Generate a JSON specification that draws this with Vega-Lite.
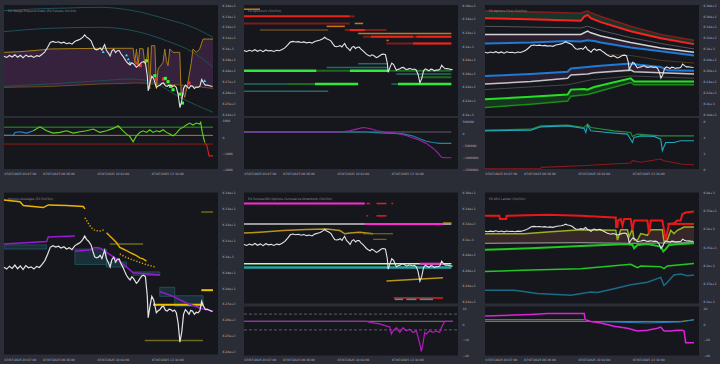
{
"$schema": "https://vega.github.io/schema/vega-lite/v6.json",
"background": "#2a2c36",
"padding": {"left": 1, "top": 4, "right": 0, "bottom": 0},
"config": {
  "view": {"fill": "#16171d", "stroke": null},
  "axis": {"labelFont": "DejaVu Sans", "labelFontSize": 3, "labelColor": "#b6b8c2", "ticks": false, "domain": false, "grid": false, "offset": 0},
  "axisY": {"minExtent": 22, "maxExtent": 22},
  "axisX": {"minExtent": 8, "maxExtent": 8},
  "title": {"font": "DejaVu Sans", "fontSize": 3, "color": "#8e909a", "fontWeight": "normal", "anchor": "start", "frame": "group", "offset": -9, "dx": 4},
  "line": {"clip": true},
  "rule": {"strokeCap": "butt", "clip": true},
  "area": {"clip": true}
},
"datasets": {
"price": [{"i":0,"v":6293},{"i":3,"v":6291.8},{"i":6,"v":6293.6},{"i":9,"v":6292.2},{"i":12,"v":6294.3},{"i":15,"v":6292},{"i":18,"v":6293.8},{"i":21,"v":6291.5},{"i":24,"v":6294},{"i":27,"v":6292.6},{"i":30,"v":6293.2},{"i":33,"v":6291.8},{"i":36,"v":6293.5},{"i":39,"v":6292.8},{"i":42,"v":6294.7},{"i":45,"v":6297},{"i":48,"v":6301},{"i":51,"v":6305.5},{"i":54,"v":6306.5},{"i":57,"v":6305.6},{"i":60,"v":6306.2},{"i":63,"v":6305},{"i":66,"v":6305.8},{"i":69,"v":6304.4},{"i":72,"v":6305.2},{"i":75,"v":6304},{"i":78,"v":6306.4},{"i":81,"v":6307.5},{"i":84,"v":6308.5},{"i":87,"v":6310.5},{"i":89,"v":6312.6},{"i":91,"v":6310.5},{"i":93,"v":6309.5},{"i":96,"v":6307},{"i":98,"v":6303},{"i":100,"v":6299.5},{"i":102,"v":6298.8},{"i":104,"v":6299.3},{"i":106,"v":6300.5},{"i":108,"v":6298.4},{"i":110,"v":6302},{"i":111,"v":6303.6},{"i":113,"v":6298.2},{"i":115,"v":6296},{"i":117,"v":6293.1},{"i":119,"v":6297.8},{"i":121,"v":6299.3},{"i":123,"v":6296.2},{"i":125,"v":6298},{"i":127,"v":6298.2},{"i":129,"v":6295.2},{"i":131,"v":6293.1},{"i":133,"v":6290.5},{"i":135,"v":6287.9},{"i":137,"v":6286.2},{"i":139,"v":6284.9},{"i":141,"v":6286.9},{"i":143,"v":6285.8},{"i":146,"v":6282.8},{"i":148,"v":6284.1},{"i":150,"v":6285.9},{"i":152,"v":6287.5},{"i":154,"v":6287.9},{"i":156,"v":6286.9},{"i":158,"v":6275},{"i":159,"v":6261.2},{"i":161,"v":6268.4},{"i":163,"v":6274.6},{"i":165,"v":6272.5},{"i":167,"v":6267},{"i":168,"v":6264.3},{"i":170,"v":6265.5},{"i":172,"v":6266.3},{"i":174,"v":6268},{"i":176,"v":6268.4},{"i":178,"v":6265.8},{"i":180,"v":6265.3},{"i":182,"v":6266.5},{"i":184,"v":6266.3},{"i":186,"v":6265.3},{"i":188,"v":6266},{"i":190,"v":6264.3},{"i":192,"v":6258},{"i":194,"v":6245.8},{"i":196,"v":6251.9},{"i":198,"v":6263.3},{"i":200,"v":6266.3},{"i":202,"v":6265},{"i":204,"v":6263.3},{"i":206,"v":6265.8},{"i":208,"v":6265.3},{"i":210,"v":6263.3},{"i":212,"v":6264.6},{"i":214,"v":6264.3},{"i":216,"v":6265.5},{"i":218,"v":6271.5},{"i":220,"v":6268.5},{"i":222,"v":6266.3},{"i":224,"v":6266.5},{"i":226,"v":6266},{"i":228,"v":6265.5},{"i":230,"v":6265.1}],
"p1l": [{"s":"c1","i":0,"v":6334.8},{"s":"c1","i":32.3,"v":6336.3},{"s":"c1","i":69,"v":6337.2},{"s":"c1","i":105.7,"v":6337.9},{"s":"c1","i":142.4,"v":6334.8},{"s":"c1","i":179.1,"v":6327.1},{"s":"c1","i":208.4,"v":6319.5},{"s":"c1","i":230.5,"v":6310.3},
{"s":"c2","i":0,"v":6315.5},{"s":"c2","i":50.6,"v":6318.6},{"s":"c2","i":105.7,"v":6319.5},{"s":"c2","i":142.4,"v":6316.4},{"s":"c2","i":179.1,"v":6307.2},{"s":"c2","i":208.4,"v":6296.5},{"s":"c2","i":230.5,"v":6282.7},
{"s":"c3","i":0,"v":6265.3},{"s":"c3","i":50.6,"v":6267.4},{"s":"c3","i":105.7,"v":6270.4},{"s":"c3","i":142.4,"v":6272},{"s":"c3","i":164.4,"v":6269},{"s":"c3","i":193.8,"v":6255.2},{"s":"c3","i":230.5,"v":6241.4}],
"p1b": [{"i":0,"hi":6296.5,"lo":6264.3},{"i":17.6,"hi":6297.1,"lo":6264.6},{"i":43.3,"hi":6298.9,"lo":6265},{"i":50.6,"hi":6299.6,"lo":6265.2},{"i":105.7,"hi":6300.2,"lo":6267.4},{"i":135.1,"hi":6300.2,"lo":6268},{"i":142.4,"hi":6300.2,"lo":6268.3},{"i":144.2,"hi":6287.3,"lo":6268.3},{"i":146.1,"hi":6299.6,"lo":6268.3},{"i":147.9,"hi":6284.2,"lo":6268.3},{"i":149.7,"hi":6300.2,"lo":6268.3},{"i":153.4,"hi":6299.6,"lo":6268.2},{"i":155.2,"hi":6285.8,"lo":6268.1},{"i":157.1,"hi":6287.3,"lo":6268},{"i":158.9,"hi":6301.1,"lo":6268},{"i":160.7,"hi":6262.8,"lo":6267.4},{"i":162.6,"hi":6302.6,"lo":6267.4},{"i":166.3,"hi":6302.6,"lo":6267.4},{"i":168.1,"hi":6262.8,"lo":6267.4},{"i":169.9,"hi":6281.2,"lo":6267.4},{"i":175.4,"hi":6287.3,"lo":6267.4},{"i":177.3,"hi":6299.6,"lo":6267.4},{"i":179.1,"hi":6288.8,"lo":6267.4},{"i":180.9,"hi":6284.2,"lo":6267.3},{"i":182.8,"hi":6299.6,"lo":6267.2},{"i":186.4,"hi":6296.5,"lo":6267},{"i":190.1,"hi":6296.5,"lo":6266.8},{"i":193.8,"hi":6296.5,"lo":6266.5},{"i":195.6,"hi":6253.6,"lo":6266.4},{"i":197.4,"hi":6259.7,"lo":6266.3},{"i":199.3,"hi":6255.1,"lo":6266.1},{"i":202.9,"hi":6268.9,"lo":6265.9},{"i":206.6,"hi":6287.3,"lo":6265.6},{"i":208.4,"hi":6299.6,"lo":6265.5},{"i":212.1,"hi":6296.5,"lo":6265.2},{"i":215.8,"hi":6299.6,"lo":6264.8},{"i":219.5,"hi":6308.7,"lo":6264.3},{"i":230.5,"hi":6308.7,"lo":6263.4}],
"p1m": [{"k":"c","i":109.4,"v":6297.1},{"k":"c","i":135.1,"v":6294},{"k":"c","i":137,"v":6290.4},{"k":"c","i":138.7,"v":6287.3},{"k":"c","i":221.3,"v":6270.5},{"k":"r","i":146.1,"v":6286.7},{"k":"r","i":150.4,"v":6284.2},{"k":"r","i":168.1,"v":6272},{"k":"r","i":176,"v":6272},{"k":"r","i":184.6,"v":6265.2},{"k":"r","i":204,"v":6268.3},{"k":"g","i":157.1,"v":6288.8},{"k":"g","i":166.3,"v":6275},{"k":"g","i":178,"v":6272.6},{"k":"g","i":180.9,"v":6269.6},{"k":"g","i":183.5,"v":6265.2},{"k":"g","i":186.4,"v":6262.1},{"k":"g","i":193.8,"v":6258.1},{"k":"g","i":196.8,"v":6249.9}],
"p1s": [{"s":"b","i":0,"v":87},{"s":"b","i":10.3,"v":106},{"s":"b","i":12.1,"v":275},{"s":"b","i":17.6,"v":312},{"s":"b","i":25,"v":231},{"s":"b","i":32.3,"v":375},
{"s":"g","i":32.3,"v":375},{"s":"g","i":39.6,"v":625},{"s":"g","i":47,"v":375},{"s":"g","i":54.3,"v":231},{"s":"g","i":61.7,"v":275},{"s":"g","i":69,"v":375},{"s":"g","i":76.3,"v":231},{"s":"g","i":83.7,"v":312},{"s":"g","i":91.1,"v":375},{"s":"g","i":98.4,"v":481},{"s":"g","i":105.7,"v":275},{"s":"g","i":113.1,"v":375},{"s":"g","i":120.4,"v":525},{"s":"g","i":125.9,"v":687},{"s":"g","i":131.4,"v":375},{"s":"g","i":135.1,"v":169},{"s":"g","i":138.7,"v":25},{"s":"g","i":142.4,"v":-312},{"s":"g","i":146.1,"v":62},{"s":"g","i":149.7,"v":275},{"s":"g","i":153.4,"v":375},{"s":"g","i":157.1,"v":275},{"s":"g","i":160.7,"v":437},{"s":"g","i":164.4,"v":275},{"s":"g","i":168.1,"v":375},{"s":"g","i":171.8,"v":312},{"s":"g","i":175.4,"v":437},{"s":"g","i":179.1,"v":275},{"s":"g","i":182.8,"v":169},{"s":"g","i":186.4,"v":62},{"s":"g","i":190.1,"v":231},{"s":"g","i":193.8,"v":481},{"s":"g","i":197.4,"v":587},{"s":"g","i":201.1,"v":731},{"s":"g","i":204.8,"v":856},{"s":"g","i":208.4,"v":731},{"s":"g","i":212.1,"v":856},{"s":"g","i":215.8,"v":794},{"s":"g","i":216.9,"v":900},{"s":"g","i":218.7,"v":275},{"s":"g","i":221.3,"v":-350},
{"s":"r","i":221.3,"v":-350},{"s":"r","i":223.9,"v":-562},{"s":"r","i":226.1,"v":-1187},{"s":"r","i":230.5,"v":-1187}],
"p1h": [{"s":"g","a":0,"b":230.5,"v":600},{"s":"o","a":0,"b":230.5,"v":90},{"s":"r","a":0,"b":230.5,"v":-450}],
"p2s": [{"s":"o","a":0,"b":17.6,"v":6353.8},{"s":"r","a":0,"b":116.7,"v":6343.3},{"s":"dr","a":116.7,"b":122.1,"v":6343.3},{"s":"dr","a":0,"b":116.7,"v":6332.9},{"s":"o","a":122.1,"b":131.4,"v":6332.9},{"s":"o","a":91.1,"b":111.2,"v":6328.6},{"s":"br","a":17.6,"b":92.9,"v":6323.3},{"s":"dr","a":111.2,"b":157.1,"v":6323.3},{"s":"r","a":116.7,"b":133.2,"v":6323.3},{"s":"o","a":125.9,"b":228.7,"v":6318},{"s":"dr","a":131.4,"b":228.7,"v":6313.3},{"s":"r","a":140,"b":186.4,"v":6313.3},{"s":"r","a":190.1,"b":228.7,"v":6313.3},{"s":"o","a":157.1,"b":159.6,"v":6308},{"s":"dr","a":157.1,"b":228.7,"v":6303.3},{"s":"r","a":186.4,"b":228.7,"v":6303.3},{"s":"t","a":125.9,"b":158.9,"v":6273.8},{"s":"t","a":91.1,"b":158.9,"v":6268.1},{"s":"g","a":0,"b":80,"v":6263.3},{"s":"dg","a":80,"b":116.7,"v":6263.3},{"s":"g","a":116.7,"b":158.9,"v":6263.3},{"s":"dg","a":158.9,"b":228.7,"v":6263.3},{"s":"t","a":168.1,"b":228.7,"v":6258.8},{"s":"dg","a":193.8,"b":228.7,"v":6253.9},{"s":"t","a":0,"b":47,"v":6243.9},{"s":"dg","a":47,"b":78.2,"v":6243.9},{"s":"g","a":78.2,"b":125.9,"v":6243.9},{"s":"t","a":162.6,"b":169.9,"v":6243.9},{"s":"g","a":169.9,"b":228.7,"v":6243.9},{"s":"t","a":0,"b":92.9,"v":6233.3}],
"p2l": [{"s":"k","i":0,"v":40000},{"s":"k","i":228.7,"v":40000},
{"s":"t","i":0,"v":40000},{"s":"t","i":135.1,"v":40000},{"s":"t","i":149.7,"v":0},{"s":"t","i":164.4,"v":-20000},{"s":"t","i":175.4,"v":-39700},{"s":"t","i":186.4,"v":-131000},{"s":"t","i":193.8,"v":-238100},{"s":"t","i":201.1,"v":-345200},{"s":"t","i":208.4,"v":-396800},{"s":"t","i":215.8,"v":-436500},{"s":"t","i":228.7,"v":-436500},
{"s":"p","i":0,"v":40000},{"s":"p","i":105.7,"v":40000},{"s":"p","i":116.7,"v":91300},{"s":"p","i":124,"v":158700},{"s":"p","i":131.4,"v":226200},{"s":"p","i":138.7,"v":186500},{"s":"p","i":146.1,"v":91300},{"s":"p","i":157.1,"v":27800},{"s":"p","i":168.1,"v":-11900},{"s":"p","i":179.1,"v":-107100},{"s":"p","i":186.4,"v":-210300},{"s":"p","i":193.8,"v":-305600},{"s":"p","i":201.1,"v":-436500},{"s":"p","i":208.4,"v":-634900},{"s":"p","i":213.9,"v":-833300},{"s":"p","i":217.6,"v":-1004000},{"s":"p","i":221.3,"v":-1031700},{"s":"p","i":228.7,"v":-1031700}],
"p3b": [{"s":"rg","i":0,"hi":6369,"lo":6355.7},{"s":"rg","i":69,"hi":6366.5,"lo":6352.8},{"s":"rg","i":105.7,"hi":6364.7,"lo":6351},{"s":"rg","i":109.4,"hi":6367.7,"lo":6358.8},{"s":"rg","i":113.1,"hi":6369,"lo":6361.8},{"s":"rg","i":116.7,"hi":6365.9,"lo":6355.7},{"s":"rg","i":127.7,"hi":6358.8,"lo":6348.6},{"s":"rg","i":160.7,"hi":6340.9,"lo":6331.9},{"s":"rg","i":193.8,"hi":6326,"lo":6318.8},{"s":"rg","i":230.5,"hi":6315.3,"lo":6308.1},
{"s":"wb","i":0,"hi":6326,"lo":6309.2},{"s":"wb","i":105.7,"hi":6326,"lo":6312.8},{"s":"wb","i":113.1,"hi":6331.9,"lo":6315.3},{"s":"wb","i":127.7,"hi":6323,"lo":6311},{"s":"wb","i":160.7,"hi":6311,"lo":6302},{"s":"wb","i":193.8,"hi":6300.9,"lo":6294.9},{"s":"wb","i":230.5,"hi":6293.1,"lo":6287.2},
{"s":"bw","i":0,"hi":6249.6,"lo":6234.7},{"s":"bw","i":50.6,"hi":6253.1,"lo":6239.4},{"s":"bw","i":91.1,"hi":6257.3,"lo":6245.4},{"s":"bw","i":94.7,"hi":6263.3,"lo":6251.4},{"s":"bw","i":113.1,"hi":6266.2,"lo":6253.1},{"s":"bw","i":120.4,"hi":6267.5,"lo":6255.5},{"s":"bw","i":160.7,"hi":6272.3,"lo":6260.3},{"s":"bw","i":164.4,"hi":6271,"lo":6257.3},{"s":"bw","i":230.5,"hi":6259.1,"lo":6253.1},
{"s":"gg","i":0,"hi":6206.6,"lo":6191.7},{"s":"gg","i":50.6,"hi":6211.4,"lo":6197.6},{"s":"gg","i":91.1,"hi":6215.5,"lo":6203.5},{"s":"gg","i":94.7,"hi":6224.5,"lo":6212.5},{"s":"gg","i":113.1,"hi":6224.5,"lo":6215.5},{"s":"gg","i":120.4,"hi":6229.3,"lo":6218.6},{"s":"gg","i":160.7,"hi":6245.4,"lo":6237.6},{"s":"gg","i":164.4,"hi":6239.4,"lo":6233.4},{"s":"gg","i":230.5,"hi":6239.4,"lo":6233.4}],
"p3l": [{"s":"dr","i":0,"v":6369},{"s":"dr","i":69,"v":6366.5},{"s":"dr","i":105.7,"v":6364.7},{"s":"dr","i":109.4,"v":6367.7},{"s":"dr","i":113.1,"v":6369},{"s":"dr","i":116.7,"v":6365.9},{"s":"dr","i":127.7,"v":6358.8},{"s":"dr","i":160.7,"v":6340.9},{"s":"dr","i":193.8,"v":6326},{"s":"dr","i":230.5,"v":6315.3},
{"s":"r","i":0,"v":6355.7},{"s":"r","i":69,"v":6352.8},{"s":"r","i":105.7,"v":6351},{"s":"r","i":109.4,"v":6358.8},{"s":"r","i":113.1,"v":6361.8},{"s":"r","i":116.7,"v":6355.7},{"s":"r","i":127.7,"v":6348.6},{"s":"r","i":160.7,"v":6331.9},{"s":"r","i":193.8,"v":6318.8},{"s":"r","i":230.5,"v":6308.1},
{"s":"gy","i":0,"v":6340.9},{"s":"gy","i":105.7,"v":6337.8},{"s":"gy","i":113.1,"v":6340.9},{"s":"gy","i":127.7,"v":6333.2},{"s":"gy","i":160.7,"v":6320},{"s":"gy","i":193.8,"v":6309.2},{"s":"gy","i":230.5,"v":6299.2},
{"s":"w","i":0,"v":6326},{"s":"w","i":105.7,"v":6326},{"s":"w","i":113.1,"v":6331.9},{"s":"w","i":116.7,"v":6328.9},{"s":"w","i":127.7,"v":6323},{"s":"w","i":160.7,"v":6311},{"s":"w","i":193.8,"v":6300.9},{"s":"w","i":230.5,"v":6293.1},
{"s":"b","i":0,"v":6309.2},{"s":"b","i":50.6,"v":6311},{"s":"b","i":91.1,"v":6314},{"s":"b","i":105.7,"v":6312.8},{"s":"b","i":113.1,"v":6315.3},{"s":"b","i":120.4,"v":6314},{"s":"b","i":127.7,"v":6311},{"s":"b","i":160.7,"v":6302},{"s":"b","i":193.8,"v":6294.9},{"s":"b","i":230.5,"v":6287.2},
{"s":"bn","i":135.1,"v":6289},{"s":"bn","i":160.7,"v":6287.2},{"s":"bn","i":193.8,"v":6278.2},{"s":"bn","i":230.5,"v":6273.4},
{"s":"b2","i":0,"v":6249.6},{"s":"b2","i":50.6,"v":6253.1},{"s":"b2","i":91.1,"v":6257.3},{"s":"b2","i":94.7,"v":6263.3},{"s":"b2","i":113.1,"v":6266.2},{"s":"b2","i":120.4,"v":6267.5},{"s":"b2","i":160.7,"v":6272.3},{"s":"b2","i":164.4,"v":6271},{"s":"b2","i":193.8,"v":6266.2},{"s":"b2","i":201.1,"v":6260.3},{"s":"b2","i":230.5,"v":6259.1},
{"s":"w2","i":0,"v":6234.7},{"s":"w2","i":50.6,"v":6239.4},{"s":"w2","i":91.1,"v":6245.4},{"s":"w2","i":94.7,"v":6251.4},{"s":"w2","i":113.1,"v":6253.1},{"s":"w2","i":120.4,"v":6255.5},{"s":"w2","i":160.7,"v":6260.3},{"s":"w2","i":164.4,"v":6257.3},{"s":"w2","i":230.5,"v":6253.1},
{"s":"gy2","i":0,"v":6224.5},{"s":"gy2","i":91.1,"v":6233.4},{"s":"gy2","i":116.7,"v":6242.4},{"s":"gy2","i":160.7,"v":6249.6},{"s":"gy2","i":230.5,"v":6245.4},
{"s":"g","i":0,"v":6206.6},{"s":"g","i":50.6,"v":6211.4},{"s":"g","i":91.1,"v":6215.5},{"s":"g","i":94.7,"v":6224.5},{"s":"g","i":109.4,"v":6225.7},{"s":"g","i":113.1,"v":6224.5},{"s":"g","i":120.4,"v":6229.3},{"s":"g","i":160.7,"v":6245.4},{"s":"g","i":164.4,"v":6239.4},{"s":"g","i":230.5,"v":6239.4},
{"s":"dg","i":0,"v":6191.7},{"s":"dg","i":50.6,"v":6197.6},{"s":"dg","i":91.1,"v":6203.5},{"s":"dg","i":94.7,"v":6212.5},{"s":"dg","i":113.1,"v":6215.5},{"s":"dg","i":120.4,"v":6218.6},{"s":"dg","i":160.7,"v":6237.6},{"s":"dg","i":164.4,"v":6233.4},{"s":"dg","i":230.5,"v":6233.4}],
"p3s": [{"s":"g","i":0,"v":4.88},{"s":"g","i":50.6,"v":5},{"s":"g","i":61.7,"v":5.41},{"s":"g","i":91.1,"v":5.5},{"s":"g","i":109.4,"v":5.21},{"s":"g","i":113.1,"v":5.63},{"s":"g","i":116.7,"v":5.21},{"s":"g","i":142.4,"v":4.79},{"s":"g","i":160.7,"v":4.59},{"s":"g","i":162.6,"v":4.09},{"s":"g","i":168.1,"v":4.38},{"s":"g","i":193.8,"v":4.16},{"s":"g","i":230.5,"v":4.16},
{"s":"t","i":0,"v":4.79},{"s":"t","i":50.6,"v":4.88},{"s":"t","i":61.7,"v":5.29},{"s":"t","i":91.1,"v":5.41},{"s":"t","i":109.4,"v":5.08},{"s":"t","i":111.2,"v":4.59},{"s":"t","i":113.1,"v":5.5},{"s":"t","i":116.7,"v":4.79},{"s":"t","i":135.1,"v":4.59},{"s":"t","i":157.1,"v":4.38},{"s":"t","i":162.6,"v":3.33},{"s":"t","i":164.4,"v":3.96},{"s":"t","i":171.8,"v":4.16},{"s":"t","i":186.4,"v":4.09},{"s":"t","i":193.8,"v":3.75},{"s":"t","i":195.6,"v":2.29},{"s":"t","i":199.3,"v":3.33},{"s":"t","i":208.4,"v":3.33},{"s":"t","i":215.8,"v":3.54},{"s":"t","i":230.5,"v":3.54},
{"s":"r","i":0,"v":0.03},{"s":"r","i":61.7,"v":0.03},{"s":"r","i":62,"v":0.21},{"s":"r","i":105.7,"v":0.41},{"s":"r","i":160.7,"v":0.75},{"s":"r","i":162.6,"v":1.04},{"s":"r","i":171.8,"v":0.84},{"s":"r","i":193.8,"v":1.25},{"s":"r","i":197.4,"v":1.04},{"s":"r","i":215.8,"v":0.63},{"s":"r","i":230.5,"v":0.54}],
"p4r": [{"a":0,"b":47,"hi":6307,"lo":6304.4},{"a":78.2,"b":113.1,"hi":6304.4,"lo":6294.7},{"a":113.1,"b":135.1,"hi":6296.2,"lo":6293.1},{"a":142.4,"b":171.8,"hi":6290,"lo":6287.9},{"a":171.8,"b":188.3,"hi":6280.3,"lo":6274.6},{"a":188.3,"b":219.5,"hi":6275,"lo":6268.4}],
"p4l": [{"s":"gd","i":0,"v":6335.3},{"s":"gd","i":17.6,"v":6334.2},{"s":"gd","i":21.3,"v":6331.8},{"s":"gd","i":32.3,"v":6331.2},{"s":"gd","i":43.3,"v":6330.5},{"s":"gd","i":48.8,"v":6332.2},{"s":"gd","i":69,"v":6331.8},{"s":"gd","i":87.4,"v":6331.2},{"s":"gd","i":89.2,"v":6329.7},
{"s":"gd2","i":113.1,"v":6314.7},{"s":"gd2","i":116.7,"v":6312.6},{"s":"gd2","i":120.4,"v":6310.6},{"s":"gd2","i":124,"v":6308.5},{"s":"gd2","i":127.7,"v":6305.4},{"s":"gd2","i":131.4,"v":6304.4},{"s":"gd2","i":135.1,"v":6303.4},{"s":"gd2","i":138.7,"v":6302.3},{"s":"gd2","i":142.4,"v":6301.3},{"s":"gd2","i":146.1,"v":6300.3},{"s":"gd2","i":149.7,"v":6298.8},{"s":"gd2","i":153.4,"v":6298.2},{"s":"gd2","i":157.1,"v":6296.8},
{"s":"pu","i":0,"v":6307.5},{"s":"pu","i":47,"v":6309.1},{"s":"pu","i":48.8,"v":6312},{"s":"pu","i":78.2,"v":6312.6},
{"s":"pu2","i":78.2,"v":6303},{"s":"pu2","i":94.7,"v":6303.8},{"s":"pu2","i":100.2,"v":6305.4},{"s":"pu2","i":105.7,"v":6305},{"s":"pu2","i":113.1,"v":6302.3},{"s":"pu2","i":124,"v":6298.2},{"s":"pu2","i":135.1,"v":6293.1},{"s":"pu2","i":142.4,"v":6289.4},{"s":"pu2","i":171.8,"v":6288},
{"s":"pu3","i":171.8,"v":6277.7},{"s":"pu3","i":186.4,"v":6274.6},{"s":"pu3","i":201.1,"v":6270.4},{"s":"pu3","i":215.8,"v":6267.3},{"s":"pu3","i":230.5,"v":6265.3}],
"p4d": [{"s":"d1","i":89.2,"v":6324},{"s":"d1","i":91.6,"v":6321.9},{"s":"d1","i":93.8,"v":6319.8},{"s":"d1","i":96.4,"v":6317.8},{"s":"d1","i":100.2,"v":6316.1},{"s":"d1","i":105.7,"v":6315.7},{"s":"d1","i":111.2,"v":6316.7},{"s":"d2","i":127.7,"v":6301.3},{"s":"d2","i":135.1,"v":6299},{"s":"d2","i":142.4,"v":6297.5},{"s":"d2","i":149.7,"v":6296},{"s":"d2","i":157.1,"v":6294.5},{"s":"d2","i":164.4,"v":6293.5},{"s":"d2","i":168.1,"v":6293.1}],
"p4s": [{"s":"gd","a":164.4,"b":219.5,"v":6269.4},{"s":"gd","a":217.6,"b":230.5,"v":6278.5},{"s":"ol","a":217.6,"b":230.5,"v":6327.7},{"s":"ol","a":155.2,"b":219.5,"v":6246.8},{"s":"ol","a":116.7,"b":153.4,"v":6307.5}],
"p5s": [{"s":"k","a":0,"b":228.7,"v":6319.4},{"s":"t","a":0,"b":228.7,"v":6263.3},{"s":"lg","a":0,"b":228.7,"v":6268.3},{"s":"m","a":0,"b":133.2,"v":6345.8},{"s":"m","a":133.2,"b":219.5,"v":6319.4},{"s":"m","a":193.8,"b":219.5,"v":6268.3},{"s":"r","a":135.1,"b":138.7,"v":6345.8},{"s":"r","a":146.1,"b":157.1,"v":6345.8},{"s":"r","a":162.6,"b":164.4,"v":6345.8},{"s":"r","a":135.1,"b":137,"v":6329.9},{"s":"r","a":146.1,"b":157.1,"v":6329.9},{"s":"r","a":165.2,"b":219.5,"v":6224.2},{"s":"gd","a":219.5,"b":228.7,"v":6320.6},{"s":"t2","a":166.3,"b":175.4,"v":6222.3},{"s":"t2","a":179.1,"b":190.1,"v":6222.3},{"s":"t2","a":193.8,"b":208.4,"v":6222.3},{"s":"gdd","a":131.4,"b":164.4,"v":6306.8},{"s":"gdd","a":142.4,"b":157.1,"v":6299.7}],
"p5l": [{"s":"gd","i":0,"v":6307.7},{"s":"gd","i":17.6,"v":6308.9},{"s":"gd","i":43.3,"v":6311},{"s":"gd","i":69,"v":6312.2},{"s":"gd","i":91.1,"v":6313.1},{"s":"gd","i":105.7,"v":6311},{"s":"gd","i":111.2,"v":6306.8},{"s":"gd","i":116.7,"v":6307.7},{"s":"gd","i":127.7,"v":6308.9},{"s":"gd","i":142.4,"v":6306.8},
{"s":"gd2","i":157.1,"v":6246},{"s":"gd2","i":219.5,"v":6250.2}],
"p5sub": [{"s":"k","i":0,"v":1.56},{"s":"k","i":230.5,"v":1.56},
{"s":"m","i":0,"v":1.56},{"s":"m","i":135.1,"v":1.56},{"s":"m","i":142.4,"v":0.6},{"s":"m","i":149.7,"v":0},{"s":"m","i":157.1,"v":-1.4},{"s":"m","i":160.7,"v":-2},{"s":"m","i":162.6,"v":-6.4},{"s":"m","i":164.4,"v":-4.4},{"s":"m","i":168.1,"v":-2.4},{"s":"m","i":171.8,"v":-5.4},{"s":"m","i":175.4,"v":-2.4},{"s":"m","i":179.1,"v":-4.4},{"s":"m","i":182.8,"v":-3.4},{"s":"m","i":186.4,"v":-5.4},{"s":"m","i":190.1,"v":-4.4},{"s":"m","i":193.8,"v":-12.4},{"s":"m","i":195.6,"v":-17.4},{"s":"m","i":197.4,"v":-12.4},{"s":"m","i":199.3,"v":-5.4},{"s":"m","i":201.1,"v":-6.4},{"s":"m","i":204.8,"v":-4.4},{"s":"m","i":208.4,"v":-5.4},{"s":"m","i":212.1,"v":-4.4},{"s":"m","i":215.8,"v":-5.4},{"s":"m","i":217.6,"v":-2.4},{"s":"m","i":219.5,"v":-0.4},{"s":"m","i":221.3,"v":1.56},{"s":"m","i":230.5,"v":1.56}],
"p5h": [{"a":0,"b":236,"v":6.2},{"a":0,"b":236,"v":-3.8}],
"p6b": [{"i":0,"hi":6286.6,"lo":6259.8},{"i":43.3,"hi":6286.6,"lo":6260.3},{"i":69,"hi":6291.2,"lo":6260.9},{"i":105.7,"hi":6297.4,"lo":6261.7},{"i":142.4,"hi":6295.7,"lo":6260.9},{"i":144.2,"hi":6295.7,"lo":6260.8},{"i":146.1,"hi":6268.9,"lo":6260.8},{"i":149.7,"hi":6297.4,"lo":6260.7},{"i":157.1,"hi":6297.4,"lo":6260},{"i":158.9,"hi":6277.7,"lo":6260},{"i":162.6,"hi":6300,"lo":6259.9},{"i":164.4,"hi":6268.9,"lo":6259.9},{"i":168.1,"hi":6268.9,"lo":6260},{"i":171.8,"hi":6286.6,"lo":6260.1},{"i":179.1,"hi":6282.1,"lo":6260.3},{"i":182.8,"hi":6297.4,"lo":6260.5},{"i":195.6,"hi":6297.4,"lo":6260.8},{"i":197.4,"hi":6264.3,"lo":6260.9},{"i":201.1,"hi":6268.9,"lo":6261},{"i":204.8,"hi":6295.7,"lo":6261.1},{"i":208.4,"hi":6286.6,"lo":6261.2},{"i":212.1,"hi":6295.7,"lo":6261.3},{"i":215.8,"hi":6300,"lo":6261.4},{"i":219.5,"hi":6304.6,"lo":6261.5},{"i":230.5,"hi":6304.6,"lo":6261.7}],
"p6l": [{"s":"k","i":0,"v":6259.8},{"s":"k","i":105.7,"v":6261.7},{"s":"k","i":160.7,"v":6259.8},{"s":"k","i":230.5,"v":6261.7},
{"s":"t","i":0,"v":6130.3},{"s":"t","i":32.3,"v":6130.3},{"s":"t","i":57.9,"v":6121.4},{"s":"t","i":94.7,"v":6116.9},{"s":"t","i":116.7,"v":6125.7},{"s":"t","i":124,"v":6124.1},{"s":"t","i":142.4,"v":6134.9},{"s":"t","i":160.7,"v":6145.6},{"s":"t","i":179.1,"v":6152.5},{"s":"t","i":193.8,"v":6166},{"s":"t","i":197.4,"v":6143.7},{"s":"t","i":201.1,"v":6152.5},{"s":"t","i":208.4,"v":6172.4},{"s":"t","i":215.8,"v":6175},{"s":"t","i":223.1,"v":6170.5},{"s":"t","i":230.5,"v":6172.4},
{"s":"g2","i":0,"v":6182},{"s":"g2","i":50.6,"v":6186.6},{"s":"g2","i":105.7,"v":6190.1},{"s":"g2","i":160.7,"v":6201.9},{"s":"g2","i":164.4,"v":6197.3},{"s":"g2","i":168.1,"v":6192.8},{"s":"g2","i":171.8,"v":6197.3},{"s":"g2","i":193.8,"v":6195.5},{"s":"g2","i":197.4,"v":6190.1},{"s":"g2","i":201.1,"v":6197.3},{"s":"g2","i":230.5,"v":6204.6},
{"s":"g","i":0,"v":6242.1},{"s":"g","i":50.6,"v":6246.4},{"s":"g","i":105.7,"v":6252.8},{"s":"g","i":157.1,"v":6258.2},{"s":"g","i":162.6,"v":6255.5},{"s":"g","i":164.4,"v":6246.4},{"s":"g","i":168.1,"v":6255.5},{"s":"g","i":179.1,"v":6258.2},{"s":"g","i":193.8,"v":6250.9},{"s":"g","i":196.7,"v":6237.5},{"s":"g","i":199.3,"v":6243.7},{"s":"g","i":202.9,"v":6255.5},{"s":"g","i":215.8,"v":6258.2},{"s":"g","i":230.5,"v":6259.8},
{"s":"o","i":0,"v":6286.6},{"s":"o","i":43.3,"v":6286.6},{"s":"o","i":69,"v":6291.2},{"s":"o","i":105.7,"v":6297.4},{"s":"o","i":142.4,"v":6295.7},{"s":"o","i":144.2,"v":6295.7},{"s":"o","i":146.1,"v":6268.9},{"s":"o","i":149.7,"v":6297.4},{"s":"o","i":157.1,"v":6297.4},{"s":"o","i":158.9,"v":6277.7},{"s":"o","i":162.6,"v":6300},{"s":"o","i":164.4,"v":6268.9},{"s":"o","i":168.1,"v":6268.9},{"s":"o","i":171.8,"v":6286.6},{"s":"o","i":179.1,"v":6282.1},{"s":"o","i":182.8,"v":6297.4},{"s":"o","i":195.6,"v":6297.4},{"s":"o","i":197.4,"v":6264.3},{"s":"o","i":201.1,"v":6268.9},{"s":"o","i":204.8,"v":6295.7},{"s":"o","i":208.4,"v":6286.6},{"s":"o","i":212.1,"v":6295.7},{"s":"o","i":215.8,"v":6300},{"s":"o","i":219.5,"v":6304.6},{"s":"o","i":230.5,"v":6304.6},
{"s":"r","i":0,"v":6335.9},{"s":"r","i":15.8,"v":6335.9},{"s":"r","i":16.5,"v":6326.8},{"s":"r","i":23.1,"v":6326.8},{"s":"r","i":23.9,"v":6335.9},{"s":"r","i":69,"v":6338.6},{"s":"r","i":105.7,"v":6335.9},{"s":"r","i":142.4,"v":6331.4},{"s":"r","i":144.2,"v":6331.4},{"s":"r","i":144.6,"v":6304.6},{"s":"r","i":146.1,"v":6304.6},{"s":"r","i":146.5,"v":6322.5},{"s":"r","i":149.7,"v":6326.8},{"s":"r","i":151.6,"v":6309.1},{"s":"r","i":153.4,"v":6326.8},{"s":"r","i":160.7,"v":6326.8},{"s":"r","i":162.6,"v":6295.7},{"s":"r","i":164.4,"v":6322.5},{"s":"r","i":179.1,"v":6322.5},{"s":"r","i":180.9,"v":6286.6},{"s":"r","i":182.8,"v":6322.5},{"s":"r","i":195.6,"v":6322.5},{"s":"r","i":199.3,"v":6268.9},{"s":"r","i":202.9,"v":6313.4},{"s":"r","i":208.4,"v":6315.3},{"s":"r","i":212.1,"v":6322.5},{"s":"r","i":215.8,"v":6322.5},{"s":"r","i":217.6,"v":6340.2},{"s":"r","i":221.3,"v":6344.8},{"s":"r","i":230.5,"v":6347.5},
{"s":"r2","i":201.1,"v":6313.4},{"s":"r2","i":230.5,"v":6313.4}],
"p6sub": [{"s":"o","i":0,"v":3.1},{"s":"o","i":215.8,"v":3.1},{"s":"o","i":230.5,"v":5.2},
{"s":"k","i":0,"v":5.2},{"s":"k","i":109.4,"v":5.2},
{"s":"b","i":113.1,"v":3.1},{"s":"b","i":179.1,"v":1.2},{"s":"b","i":215.8,"v":2.4},{"s":"b","i":230.5,"v":5.2},
{"s":"m","i":0,"v":10},{"s":"m","i":32.3,"v":11.2},{"s":"m","i":50.6,"v":12},{"s":"m","i":69,"v":13.2},{"s":"m","i":109.4,"v":13.2},{"s":"m","i":110.5,"v":5.2},{"s":"m","i":116.7,"v":3.1},{"s":"m","i":127.7,"v":1.2},{"s":"m","i":142.4,"v":-2.9},{"s":"m","i":157.1,"v":-5.6},{"s":"m","i":168.1,"v":-8.9},{"s":"m","i":179.1,"v":-8},{"s":"m","i":190.1,"v":-5.6},{"s":"m","i":193.8,"v":-4},{"s":"m","i":197.4,"v":-8.9},{"s":"m","i":204.8,"v":-8.9},{"s":"m","i":212.1,"v":-8},{"s":"m","i":217.6,"v":-8},{"s":"m","i":219.5,"v":-8.9},{"s":"m","i":221.3,"v":-24},{"s":"m","i":230.5,"v":-24}]
},
"spacing": 14.5,
"resolve": {"scale": {"color": "independent", "strokeWidth": "independent", "shape": "independent"}},
"vconcat": [
{"hconcat": [
 {"vconcat": [
  {"width": 214, "height": 111,
   "title": {"text": "ES Hedge Pressure Index (ES Futures 1m/1m)"},
   "encoding": {
    "x": {"field": "i", "type": "quantitative", "scale": {"domain": [0, 236], "nice": false, "zero": false}, "axis": null, "title": null},
    "y": {"field": "v", "type": "quantitative", "scale": {"domain": [6238, 6340], "nice": false, "zero": false}, "title": null, "axis": {"orient": "right", "values": [6240,6250,6260,6270,6280,6290,6300,6310,6320,6330,6340], "format": ",", "labelPadding": 4}}},
   "layer": [
    {"data": {"name": "p1b"}, "mark": {"type": "area", "color": "#3a2340", "opacity": 0.9}, "encoding": {"y": {"field": "hi", "type": "quantitative", "title": null, "axis": {"orient": "right", "values": [6240,6250,6260,6270,6280,6290,6300,6310,6320,6330,6340], "format": ",", "labelPadding": 4}}, "y2": {"field": "lo"}}},
    {"data": {"name": "p1l"}, "mark": {"type": "line", "color": "#1f4f57", "strokeWidth": 1, "interpolate": "monotone"}, "encoding": {"detail": {"field": "s"}}},
    {"data": {"name": "p1b"}, "mark": {"type": "line", "color": "#6b4a1e", "strokeWidth": 1}, "encoding": {"y": {"field": "lo", "type": "quantitative", "title": null, "axis": {"orient": "right", "values": [6240,6250,6260,6270,6280,6290,6300,6310,6320,6330,6340], "format": ",", "labelPadding": 4}}}},
    {"data": {"name": "p1b"}, "mark": {"type": "line", "color": "#a47e18", "strokeWidth": 1}, "encoding": {"y": {"field": "hi", "type": "quantitative", "title": null, "axis": {"orient": "right", "values": [6240,6250,6260,6270,6280,6290,6300,6310,6320,6330,6340], "format": ",", "labelPadding": 4}}}},
    {"data": {"name": "p1m"}, "mark": {"type": "point", "filled": true, "size": 9, "opacity": 1},
     "encoding": {"color": {"field": "k", "type": "nominal", "scale": {"domain": ["c","r","g"], "range": ["#36e0f0","#ff2a2a","#36ff36"]}, "legend": null},
                  "shape": {"field": "k", "type": "nominal", "scale": {"domain": ["c","r","g"], "range": ["triangle-up","square","square"]}, "legend": null}}},
    {"data": {"name": "price"}, "mark": {"type": "line", "color": "#e4e4e8", "strokeWidth": 1.1}}
   ]},
  {"width": 214, "height": 51,
   "encoding": {
    "x": {"field": "i", "type": "quantitative", "scale": {"domain": [0, 236], "nice": false, "zero": false}, "title": null,
          "axis": {"orient": "bottom", "values": [0, 60, 120, 180], "labelPadding": 3, "labelExpr": "datum.value == 0 ? '07/07/2025 03:07:00' : datum.value == 60 ? '07/07/2025 06:36:00' : datum.value == 120 ? '07/07/2025 10:02:00' : '07/07/2025 13:34:00'"}},
    "y": {"field": "v", "type": "quantitative", "scale": {"domain": [-2000, 1170], "nice": false, "zero": false}, "axis": {"orient": "right", "values": [-2000,-1000,0,1000], "format": "d", "labelPadding": 4}, "title": null}},
   "layer": [
    {"data": {"name": "p1h"}, "mark": {"type": "rule", "strokeWidth": 1},
     "encoding": {"x": {"field": "a", "type": "quantitative", "title": null, "axis": {"orient": "bottom", "values": [0, 60, 120, 180], "labelPadding": 3, "labelExpr": "datum.value == 0 ? '07/07/2025 03:07:00' : datum.value == 60 ? '07/07/2025 06:36:00' : datum.value == 120 ? '07/07/2025 10:02:00' : '07/07/2025 13:34:00'"}}, "x2": {"field": "b"},
                  "color": {"field": "s", "type": "nominal", "scale": {"domain": ["g","o","r"], "range": ["#2b9a2b","#9a861c","#8c1c1c"]}, "legend": null}}},
    {"data": {"name": "p1s"}, "mark": {"type": "line", "strokeWidth": 1.1},
     "encoding": {"color": {"field": "s", "type": "nominal", "scale": {"domain": ["b","g","r"], "range": ["#2a86c8","#62d81a","#e01e1e"]}, "legend": null}}}
   ],
   "resolve": {"scale": {"color": "independent"}}}
 ], "spacing": 2, "resolve": {"scale": {"color": "independent", "strokeWidth": "independent", "shape": "independent"}}},
 {"vconcat": [
  {"width": 214, "height": 111,
   "title": {"text": "ES OptionsIV (5m/5m)"},
   "encoding": {
    "x": {"field": "i", "type": "quantitative", "scale": {"domain": [0, 236], "nice": false, "zero": false}, "axis": null, "title": null},
    "y": {"field": "v", "type": "quantitative", "scale": {"domain": [6197, 6360], "nice": false, "zero": false}, "title": null, "axis": {"orient": "right", "values": [6200,6220,6240,6260,6280,6300,6320,6340,6360], "format": ",", "labelPadding": 4}}},
   "layer": [
    {"data": {"name": "p2s"}, "mark": {"type": "rule"},
     "encoding": {"x": {"field": "a", "type": "quantitative", "axis": null}, "x2": {"field": "b"},
                  "color": {"field": "s", "type": "nominal", "scale": {"domain": ["o","r","dr","br","g","dg","t"], "range": ["#c8761e","#e8241c","#7c1c1c","#6a4a22","#2ee83a","#1e6a1e","#1f6b66"]}, "legend": null},
                  "strokeWidth": {"field": "s", "type": "nominal", "scale": {"type": "ordinal", "domain": ["o","r","dr","br","g","dg","t"], "range": [1.5,2,2,1.5,2.5,2,1.5]}, "legend": null}}},
    {"data": {"name": "price"}, "mark": {"type": "line", "color": "#e4e4e8", "strokeWidth": 1.1}}
   ]},
  {"width": 214, "height": 51,
   "encoding": {
    "x": {"field": "i", "type": "quantitative", "scale": {"domain": [0, 236], "nice": false, "zero": false}, "title": null,
          "axis": {"orient": "bottom", "values": [0, 60, 120, 180], "labelPadding": 3, "labelExpr": "datum.value == 0 ? '07/07/2025 03:07:00' : datum.value == 60 ? '07/07/2025 06:36:00' : datum.value == 120 ? '07/07/2025 10:02:00' : '07/07/2025 13:34:00'"}},
    "y": {"field": "v", "type": "quantitative", "scale": {"domain": [-1500000, 620000], "nice": false, "zero": false}, "axis": {"orient": "right", "values": [-1500000,-1000000,-500000,0,500000], "format": "d", "labelPadding": 4}, "title": null}},
   "layer": [
    {"data": {"name": "p2l"}, "mark": {"type": "line", "strokeWidth": 1.1},
     "encoding": {"color": {"field": "s", "type": "nominal", "scale": {"domain": ["k","t","p"], "range": ["#5e5e66","#1a8aa0","#a020b0"]}, "legend": null}}}
   ]}
 ], "spacing": 2, "resolve": {"scale": {"color": "independent", "strokeWidth": "independent", "shape": "independent"}}},
 {"vconcat": [
  {"width": 214, "height": 111,
   "title": {"text": "ES Options Flow (5m/5m)"},
   "encoding": {
    "x": {"field": "i", "type": "quantitative", "scale": {"domain": [0, 236], "nice": false, "zero": false}, "axis": null, "title": null},
    "y": {"field": "v", "type": "quantitative", "scale": {"domain": [6176, 6380], "nice": false, "zero": false}, "title": null, "axis": {"orient": "right", "values": [6180,6200,6220,6240,6260,6280,6300,6320,6340,6360,6380], "format": ",", "labelPadding": 4}}},
   "layer": [
    {"data": {"name": "p3b"}, "mark": {"type": "area", "opacity": 0.9},
     "encoding": {"y": {"field": "hi", "type": "quantitative", "title": null, "axis": {"orient": "right", "values": [6180,6200,6220,6240,6260,6280,6300,6320,6340,6360,6380], "format": ",", "labelPadding": 4}}, "y2": {"field": "lo"}, "detail": {"field": "s"},
                  "color": {"field": "s", "type": "nominal", "scale": {"domain": ["rg","wb","bw","gg"], "range": ["#173a2c","#2e2030","#2e2030","#163a1e"]}, "legend": null}}},
    {"data": {"name": "p3l"}, "mark": {"type": "line"},
     "encoding": {"color": {"field": "s", "type": "nominal", "scale": {"domain": ["dr","r","gy","w","b","bn","b2","w2","gy2","g","dg"], "range": ["#8c1a1a","#ff2020","#56565e","#d4d4d8","#1f7ad4","#4a3a20","#1f7ad4","#c4c4c8","#46464e","#24e024","#1a8c1a"]}, "legend": null},
                  "strokeWidth": {"field": "s", "type": "nominal", "scale": {"type": "ordinal", "domain": ["dr","r","gy","w","b","bn","b2","w2","gy2","g","dg"], "range": [1.5,2,1,1.5,2,1,2,1.5,1,2,1.5]}, "legend": null}}},
    {"data": {"name": "price"}, "mark": {"type": "line", "color": "#e4e4e8", "strokeWidth": 1.1}}
   ],
   "resolve": {"scale": {"color": "independent"}}},
  {"width": 214, "height": 51,
   "encoding": {
    "x": {"field": "i", "type": "quantitative", "scale": {"domain": [0, 236], "nice": false, "zero": false}, "title": null,
          "axis": {"orient": "bottom", "values": [0, 60, 120, 180], "labelPadding": 3, "labelExpr": "datum.value == 0 ? '07/07/2025 03:07:00' : datum.value == 60 ? '07/07/2025 06:36:00' : datum.value == 120 ? '07/07/2025 10:02:00' : '07/07/2025 13:34:00'"}},
    "y": {"field": "v", "type": "quantitative", "scale": {"domain": [0, 6.4], "nice": false, "zero": false}, "axis": {"orient": "right", "values": [0,2,4,6], "format": "d", "labelPadding": 4}, "title": null}},
   "layer": [
    {"data": {"name": "p3s"}, "mark": {"type": "line", "strokeWidth": 1.1},
     "encoding": {"color": {"field": "s", "type": "nominal", "scale": {"domain": ["g","t","r"], "range": ["#2a8a3a","#1fa8b8","#8a1a1a"]}, "legend": null}}}
   ]}
 ], "spacing": 2, "resolve": {"scale": {"color": "independent", "strokeWidth": "independent", "shape": "independent"}}}
], "spacing": 1, "resolve": {"scale": {"color": "independent", "strokeWidth": "independent", "shape": "independent"}}},
{"hconcat": [
 {"width": 214, "height": 162,
  "title": {"text": "Options Averages (ES 5m/5m)"},
  "encoding": {
   "x": {"field": "i", "type": "quantitative", "scale": {"domain": [0, 236], "nice": false, "zero": false}, "title": null,
         "axis": {"orient": "bottom", "values": [0, 60, 120, 180], "labelPadding": 4, "labelExpr": "datum.value == 0 ? '07/07/2025 03:07:00' : datum.value == 60 ? '07/07/2025 06:36:00' : datum.value == 120 ? '07/07/2025 10:02:00' : '07/07/2025 13:34:00'"}},
   "y": {"field": "v", "type": "quantitative", "scale": {"domain": [6238, 6340], "nice": false, "zero": false}, "title": null, "axis": {"orient": "right", "values": [6240,6250,6260,6270,6280,6290,6300,6310,6320,6330,6340], "format": ",", "labelPadding": 4}}},
  "layer": [
   {"data": {"name": "p4r"}, "mark": {"type": "rect", "color": "#1c3842", "opacity": 0.75, "stroke": "#2a7a82", "strokeWidth": 0.7, "clip": true},
    "encoding": {"x": {"field": "a", "type": "quantitative", "title": null, "axis": {"orient": "bottom", "values": [0, 60, 120, 180], "labelPadding": 4, "labelExpr": "datum.value == 0 ? '07/07/2025 03:07:00' : datum.value == 60 ? '07/07/2025 06:36:00' : datum.value == 120 ? '07/07/2025 10:02:00' : '07/07/2025 13:34:00'"}}, "x2": {"field": "b"},
                 "y": {"field": "hi", "type": "quantitative", "title": null, "axis": {"orient": "right", "values": [6240,6250,6260,6270,6280,6290,6300,6310,6320,6330,6340], "format": ",", "labelPadding": 4}}, "y2": {"field": "lo"}}},
   {"data": {"name": "p4s"}, "mark": {"type": "rule"},
    "encoding": {"x": {"field": "a", "type": "quantitative", "title": null, "axis": {"orient": "bottom", "values": [0, 60, 120, 180], "labelPadding": 4, "labelExpr": "datum.value == 0 ? '07/07/2025 03:07:00' : datum.value == 60 ? '07/07/2025 06:36:00' : datum.value == 120 ? '07/07/2025 10:02:00' : '07/07/2025 13:34:00'"}}, "x2": {"field": "b"},
                 "color": {"field": "s", "type": "nominal", "scale": {"domain": ["gd","ol"], "range": ["#f0c000","#6e6a1e"]}, "legend": null},
                 "strokeWidth": {"field": "s", "type": "nominal", "scale": {"type": "ordinal", "domain": ["gd","ol"], "range": [2, 1.5]}, "legend": null}}},
   {"data": {"name": "p4l"}, "mark": {"type": "line", "strokeWidth": 1.5},
    "encoding": {"color": {"field": "s", "type": "nominal", "scale": {"domain": ["gd","gd2","pu","pu2","pu3"], "range": ["#f0b400","#e0a800","#9a1ad0","#9a1ad0","#9a1ad0"]}, "legend": null}}},
   {"data": {"name": "p4d"}, "mark": {"type": "line", "color": "#e0a800", "strokeWidth": 1.5, "strokeDash": [1.2, 1.8]}, "encoding": {"detail": {"field": "s"}}},
   {"data": {"name": "price"}, "mark": {"type": "line", "color": "#e4e4e8", "strokeWidth": 1.2}}
  ],
  "resolve": {"scale": {"color": "independent", "strokeWidth": "independent"}}},
 {"vconcat": [
  {"width": 214, "height": 111,
   "title": {"text": "ES Futures/SPX Options Cumulative Orderbook (5m/5m)"},
   "encoding": {
    "x": {"field": "i", "type": "quantitative", "scale": {"domain": [0, 236], "nice": false, "zero": false}, "axis": null, "title": null},
    "y": {"field": "v", "type": "quantitative", "scale": {"domain": [6217, 6360], "nice": false, "zero": false}, "title": null, "axis": {"orient": "right", "values": [6220,6240,6260,6280,6300,6320,6340,6360], "format": ",", "labelPadding": 4}}},
   "layer": [
    {"data": {"name": "p5l"}, "mark": {"type": "line", "strokeWidth": 1.5, "color": "#b8941a"}, "encoding": {"detail": {"field": "s"}}},
    {"data": {"name": "p5s"}, "mark": {"type": "rule"},
     "encoding": {"x": {"field": "a", "type": "quantitative", "axis": null}, "x2": {"field": "b"},
                  "color": {"field": "s", "type": "nominal", "scale": {"domain": ["k","t","lg","m","r","gd","t2","gdd"], "range": ["#c8c8c8","#2aa0a0","#b8ffb0","#ff2ad4","#e02020","#b8941a","#2aa0a0","#8a7420"]}, "legend": null},
                  "strokeWidth": {"field": "s", "type": "nominal", "scale": {"type": "ordinal", "domain": ["k","t","lg","m","r","gd","t2","gdd"], "range": [1.5,2.5,1.5,2,1.5,1.5,1.5,1]}, "legend": null}}},
    {"data": {"name": "price"}, "mark": {"type": "line", "color": "#e4e4e8", "strokeWidth": 1.1}}
   ]},
  {"width": 214, "height": 49,
   "encoding": {
    "x": {"field": "i", "type": "quantitative", "scale": {"domain": [0, 236], "nice": false, "zero": false}, "title": null,
          "axis": {"orient": "bottom", "values": [0, 60, 120, 180], "labelPadding": 3, "labelExpr": "datum.value == 0 ? '07/07/2025 03:07:00' : datum.value == 60 ? '07/07/2025 06:36:00' : datum.value == 120 ? '07/07/2025 10:02:00' : '07/07/2025 13:34:00'"}},
    "y": {"field": "v", "type": "quantitative", "scale": {"domain": [-20, 11], "nice": false, "zero": false}, "axis": {"orient": "right", "values": [-20,-10,0,10], "format": "d", "labelPadding": 4}, "title": null}},
   "layer": [
    {"data": {"name": "p5h"}, "mark": {"type": "rule", "color": "#5c5c64", "strokeWidth": 1, "strokeDash": [3, 2]},
     "encoding": {"x": {"field": "a", "type": "quantitative", "title": null, "axis": {"orient": "bottom", "values": [0, 60, 120, 180], "labelPadding": 3, "labelExpr": "datum.value == 0 ? '07/07/2025 03:07:00' : datum.value == 60 ? '07/07/2025 06:36:00' : datum.value == 120 ? '07/07/2025 10:02:00' : '07/07/2025 13:34:00'"}}, "x2": {"field": "b"}}},
    {"data": {"name": "p5sub"}, "mark": {"type": "line", "strokeWidth": 1.2},
     "encoding": {"color": {"field": "s", "type": "nominal", "scale": {"domain": ["k","m"], "range": ["#6a6a72","#b41cbc"]}, "legend": null}}}
   ]}
 ], "spacing": 3, "resolve": {"scale": {"color": "independent", "strokeWidth": "independent", "shape": "independent"}}},
 {"vconcat": [
  {"width": 214, "height": 111,
   "title": {"text": "ES GEX Ladder (5m/5m)"},
   "encoding": {
    "x": {"field": "i", "type": "quantitative", "scale": {"domain": [0, 236], "nice": false, "zero": false}, "axis": null, "title": null},
    "y": {"field": "v", "type": "quantitative", "scale": {"domain": [6094, 6400], "nice": false, "zero": false}, "title": null, "axis": {"orient": "right", "values": [6100,6150,6200,6250,6300,6350,6400], "format": ",", "labelPadding": 4}}},
   "layer": [
    {"data": {"name": "p6b"}, "mark": {"type": "area", "color": "#3a2a2a", "opacity": 0.9}, "encoding": {"y": {"field": "hi", "type": "quantitative", "title": null, "axis": {"orient": "right", "values": [6100,6150,6200,6250,6300,6350,6400], "format": ",", "labelPadding": 4}}, "y2": {"field": "lo"}}},
    {"data": {"name": "p6l"}, "mark": {"type": "line"},
     "encoding": {"color": {"field": "s", "type": "nominal", "scale": {"domain": ["k","t","g2","g","o","r","r2"], "range": ["#8a8a8e","#1a6a88","#22c822","#22c822","#9ab020","#e81818","#e81818"]}, "legend": null},
                  "strokeWidth": {"field": "s", "type": "nominal", "scale": {"type": "ordinal", "domain": ["k","t","g2","g","o","r","r2"], "range": [1.2,1.5,1.5,2,1.5,2,2]}, "legend": null}}},
    {"data": {"name": "price"}, "mark": {"type": "line", "color": "#e4e4e8", "strokeWidth": 1.1}}
   ]},
  {"width": 214, "height": 49,
   "encoding": {
    "x": {"field": "i", "type": "quantitative", "scale": {"domain": [0, 236], "nice": false, "zero": false}, "title": null,
          "axis": {"orient": "bottom", "values": [0, 60, 120, 180], "labelPadding": 3, "labelExpr": "datum.value == 0 ? '07/07/2025 03:07:00' : datum.value == 60 ? '07/07/2025 06:36:00' : datum.value == 120 ? '07/07/2025 10:02:00' : '07/07/2025 13:34:00'"}},
    "y": {"field": "v", "type": "quantitative", "scale": {"domain": [-40, 22], "nice": false, "zero": false}, "axis": {"orient": "right", "values": [-40,-20,0,20], "format": "d", "labelPadding": 4}, "title": null}},
   "layer": [
    {"data": {"name": "p6sub"}, "mark": {"type": "line"},
     "encoding": {"color": {"field": "s", "type": "nominal", "scale": {"domain": ["o","k","b","m"], "range": ["#8a8a1a","#8a8a8a","#2a80c0","#e020e0"]}, "legend": null},
                  "strokeWidth": {"field": "s", "type": "nominal", "scale": {"type": "ordinal", "domain": ["o","k","b","m"], "range": [1,1,1,1.5]}, "legend": null}}}
   ]}
 ], "spacing": 3, "resolve": {"scale": {"color": "independent", "strokeWidth": "independent", "shape": "independent"}}}
], "spacing": 1, "resolve": {"scale": {"color": "independent", "strokeWidth": "independent", "shape": "independent"}}}
]
}
